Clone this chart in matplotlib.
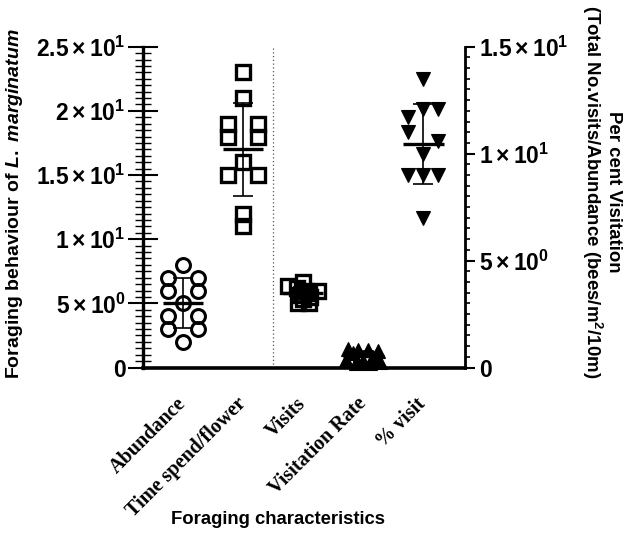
import numpy as np
import matplotlib
matplotlib.use("Agg")
import matplotlib.pyplot as plt

plt.rcParams['font.family'] = ['Liberation Sans', 'DejaVu Sans']
plt.rcParams['font.weight'] = 'bold'
plt.rcParams['mathtext.fontset'] = 'custom'
plt.rcParams['mathtext.rm'] = 'Liberation Sans:bold'
plt.rcParams['mathtext.it'] = 'Liberation Sans:italic:bold'
plt.rcParams['mathtext.bf'] = 'Liberation Sans:bold'

# ---------------- data ----------------
categories = ['Abundance', 'Time spend/flower', 'Visits', 'Visitation Rate', '% visit']
abundance = [8, 7, 7, 6, 6, 5, 4, 4, 3, 3, 2]
time_spend = [23, 21, 19, 19, 18, 18, 16, 15, 15, 12, 11]
visits = [4.0, 3.8, 3.6, 3.7, 3.5, 3.4, 3.3, 3.0, 3.0, 3.2, 3.6]
visitation_rate = [0.85, 0.8, 0.8, 0.75, 0.7, 0.5, 0.35, 0.3, 0.25, 0.2, 0.2]
pct_visit = [13.5, 12.1, 12.1, 11.7, 11.0, 10.6, 10.0, 9.0, 9.0, 9.0, 7.0]

left_ticks = [0, 5, 10, 15, 20, 25]
left_ticklabels = ['0', r'$5\times10^{0}$', r'$1\times10^{1}$', r'$1.5\times10^{1}$',
                   r'$2\times10^{1}$', r'$2.5\times10^{1}$']
right_ticks = [0, 5, 10, 15]
right_ticklabels = ['0', r'$5\times10^{0}$', r'$1\times10^{1}$', r'$1.5\times10^{1}$']

# horizontal scatter layout (positions only)
off_abund = [0, -0.25, 0.25, -0.25, 0.25, 0, -0.25, 0.25, -0.25, 0.25, 0]
off_time = [0, 0, -0.25, 0.25, -0.25, 0.25, 0, -0.25, 0.25, 0, 0]
off_visits = [0.0, -0.25, 0.25, -0.1, 0.1, -0.05, 0.12, -0.08, 0.1, 0.0, 0.05]
off_rate = [-0.25, -0.08, 0.08, 0.25, -0.16, 0.16, -0.28, 0.0, 0.28, -0.12, 0.12]
off_pct = [0, 0, 0.25, -0.25, -0.25, 0.25, 0, -0.25, 0, 0.25, 0]

fig = plt.figure(figsize=(6.25, 5.43), dpi=100)
ax = fig.add_axes([0.2283, 0.3232, 0.516, 0.5908])
ax2 = ax.twinx()

ax.set_xlim(-0.67, 4.7)
ax.set_ylim(0, 25)
ax2.set_ylim(0, 15)

def draw_group(a, xpos, vals, offs, marker, filled, ms, mew=2.3):
    vals = np.asarray(vals, float)
    xs = xpos + np.asarray(offs, float)
    if filled:
        a.plot(xs, vals, linestyle='none', marker=marker, ms=ms, mfc='black',
               mec='black', mew=0.8, zorder=3, clip_on=False)
    else:
        a.plot(xs, vals, linestyle='none', marker=marker, ms=ms, mfc='none',
               mec='black', mew=mew, zorder=3, clip_on=False)
    m = vals.mean()
    sd = vals.std(ddof=1)
    a.errorbar([xpos], [m], yerr=[sd], fmt='none', ecolor='black',
               elinewidth=1.2, capsize=7, capthick=1.2, zorder=4)
    a.plot([xpos - 0.34, xpos + 0.34], [m, m], color='black', lw=2.4,
           zorder=5, solid_capstyle='butt')

draw_group(ax, 0, abundance, off_abund, 'o', False, 10, 2.2)
draw_group(ax, 1, time_spend, off_time, 's', False, 10, 2.4)
draw_group(ax2, 2, visits, off_visits, 's', False, 10, 2.4)
draw_group(ax2, 3, visitation_rate, off_rate, '^', True, 10.5)
draw_group(ax2, 4, pct_visit, off_pct, 'v', True, 10.5)

# dotted separator
ax.plot([1.5, 1.5], [0, 25], color='#555555', lw=0.9, linestyle=(0, (1, 2)), zorder=1)

# spines
for s in ['top', 'right']:
    ax.spines[s].set_visible(False)
for s in ['top', 'left', 'bottom']:
    ax2.spines[s].set_visible(False)
ax.spines['left'].set_linewidth(2.4)
ax.spines['bottom'].set_linewidth(2.6)
ax2.spines['right'].set_linewidth(2.0)

# left axis ticks
ax.set_yticks(left_ticks)
ax.set_yticklabels(left_ticklabels)
ax.set_yticks(np.arange(0, 25.01, 0.5), minor=True)
ax.tick_params(axis='y', which='major', direction='inout', length=21.5, width=1.5,
               labelsize=16.5, pad=1.5)
ax.tick_params(axis='y', which='minor', direction='inout', length=12, width=1.0)

# right axis ticks
ax2.set_yticks(right_ticks)
ax2.set_yticklabels(right_ticklabels)
ax2.set_yticks(np.arange(0, 15.01, 0.5), minor=True)
ax2.tick_params(axis='y', which='major', direction='out', length=7.2, width=1.5,
                labelsize=16.5, pad=3)
ax2.tick_params(axis='y', which='minor', direction='out', length=3.6, width=1.2)

# x axis
ax.set_xticks(range(len(categories)))
ax.set_xticklabels(categories, rotation=45, ha='right', va='center',
                   rotation_mode='anchor', fontfamily='Liberation Serif',
                   fontweight='bold', fontsize=14.5)
ax.tick_params(axis='x', length=0, pad=24)

fig.text(278 / 625, 1 - 520 / 543, 'Foraging characteristics', ha='center', va='center',
         fontsize=13.3, fontweight='bold')
fig.text(15 / 625, 1 - 204 / 543, r'Foraging behaviour of $\mathit{L.\ marginatum}$',
         rotation=90, ha='center', va='center', fontsize=14, fontweight='bold')
fig.text(601 / 625, 1 - 192 / 543,
         'Per cent Visitation\n(Total No.visits/Abundance (bees/m$^{2}$/10m)',
         rotation=270, ha='center', va='center', multialignment='center',
         fontsize=13.4, fontweight='bold', linespacing=1.1)

fig.savefig('out.png', dpi=100)
